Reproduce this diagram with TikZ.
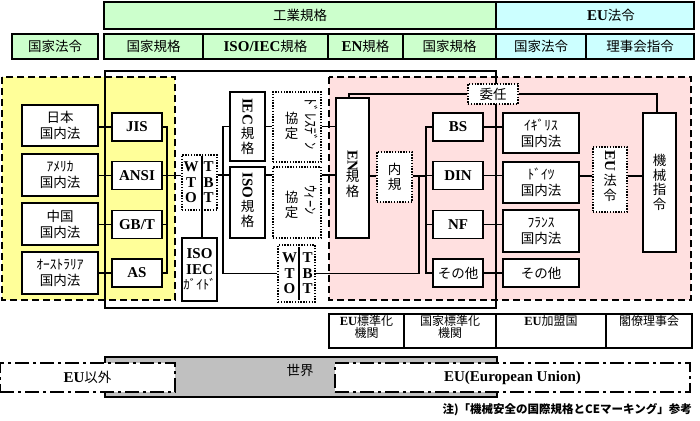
\documentclass[tikz,border=0pt]{standalone}
\usepackage{fontspec}
\setmainfont{Liberation Serif}
\newfontfamily\cjk{Noto Sans CJK JP}
\newcommand\LT[1]{{\rmfamily\bfseries\fontsize{15}{17}\selectfont #1}}
\newcommand\LS[1]{{\rmfamily\bfseries\fontsize{12.5}{12.5}\selectfont #1}}
\definecolor{hgreen}{HTML}{CCFFCC}
\definecolor{hcyan}{HTML}{CCFFFF}
\definecolor{ryel}{HTML}{FFFF99}
\definecolor{rpink}{HTML}{FFE0E0}
\definecolor{rgray}{HTML}{C0C0C0}
\tikzset{
  hdr/.style={draw, line width=1.6pt, inner sep=0pt, align=center, font=\fontsize{13.5}{16}\selectfont\cjk},
  box/.style={draw, line width=1.6pt, fill=white, inner sep=0pt, align=center, font=\fontsize{13.5}{16}\selectfont\cjk},
  dbox/.style={draw, line width=1.4pt, dash pattern=on 1.4pt off 1.4pt, fill=white, inner sep=0pt, align=center, font=\fontsize{13.5}{15}\selectfont\cjk},
  conn/.style={line width=1.2pt},
  region/.style={line width=1.6pt, dash pattern=on 7pt off 4pt},
  dashdot/.style={draw, line width=1.4pt, dash pattern=on 14pt off 4pt on 3pt off 4pt, fill=white, inner sep=0pt, font=\fontsize{13.5}{16}\selectfont\cjk},
  jt/.style={inner sep=0pt, align=center, font=\fontsize{13.5}{15}\selectfont\cjk},
  lt/.style={inner sep=0pt, align=center, font=\fontsize{15}{15.5}\selectfont\bfseries},
  small/.style={inner sep=0pt, align=center, font=\fontsize{12}{12.5}\selectfont\cjk},
}
\begin{document}
\begin{tikzpicture}[x=1pt,y=-1pt]
\useasboundingbox (0,0) rectangle (700,420);
% regions
\fill[ryel] (2,77) rectangle (175,300);
\draw[region] (2,77) rectangle (175,300);
\fill[rpink] (329,77) rectangle (691,300);
\draw[region] (329,77) rectangle (691,300);
\draw[line width=1.6pt] (105,71) rectangle (496,308);
% headers
\node[hdr, fill=hgreen, minimum width=392pt, minimum height=27pt] (h1) at (300,15.5) {工業規格};
\node[hdr, fill=hcyan, minimum width=198pt, minimum height=27pt,
      label={[font=\fontsize{13.5}{16}\selectfont\cjk, xshift=16pt]center:\LT{EU}法令}] (h2) at (595,15.5) {};
\node[hdr, fill=hgreen, minimum width=86pt, minimum height=25pt] (r0) at (55,46.5) {国家法令};
\node[hdr, fill=hgreen, minimum width=99pt, minimum height=25pt] (r1) at (153.5,46.5) {国家規格};
\node[hdr, fill=hgreen, minimum width=125pt, minimum height=25pt] (r2) at (265.5,46.5) {\LT{ISO/IEC}規格};
\node[hdr, fill=hgreen, minimum width=75pt, minimum height=25pt] (r3) at (365.5,46.5) {\LT{EN}規格};
\node[hdr, fill=hgreen, minimum width=93pt, minimum height=25pt] (r4) at (449.5,46.5) {国家規格};
\node[hdr, fill=hcyan, minimum width=90pt, minimum height=25pt] (r5) at (541,46.5) {国家法令};
\node[hdr, fill=hcyan, minimum width=108pt, minimum height=25pt] (r6) at (640,46.5) {理事会指令};
% helper coordinates
\coordinate (y175) at (0,175);
\coordinate (y176) at (0,176);
\coordinate (bus1) at (167,0);
\coordinate (bus2) at (223,0);
\coordinate (j1) at (419,0);
\coordinate (bus3) at (426,0);
% nodes
\node[box, minimum width=76pt, minimum height=41pt] (jp) at (60,125.5) {日本\\国内法};
\node[box, minimum width=76pt, minimum height=42pt] (us) at (60,175) {ｱﾒﾘｶ\\国内法};
\node[box, minimum width=76pt, minimum height=42pt] (cn) at (60,224) {中国\\国内法};
\node[box, minimum width=76pt, minimum height=42pt] (au) at (60,273) {ｵｰｽﾄﾗﾘｱ\\国内法};
\node[box, minimum width=50pt, minimum height=28pt] (jis) at (137,127) {\LT{JIS}};
\node[box, minimum width=50pt, minimum height=28pt] (ansi) at (137,175.5) {\LT{ANSI}};
\node[box, minimum width=50pt, minimum height=28pt] (gbt) at (137,224.5) {\LT{GB/T}};
\node[box, minimum width=50pt, minimum height=28pt] (as) at (137,273) {\LT{AS}};
% connectors left
\draw[conn] (jp.east |- jis.west) -- (jis.west);
\draw[conn] (us.east |- ansi.west) -- (ansi.west);
\draw[conn] (cn.east |- gbt.west) -- (gbt.west);
\draw[conn] (au.east |- as.west) -- (as.west);
\draw[conn] (jis.east) -- (jis.east -| bus1) -- (as.east -| bus1) -- (as.east);
\draw[conn] (gbt.east) -- (gbt.east -| bus1);
% WTO TBT 1
\node[dbox, minimum width=35pt, minimum height=55pt] (wto1) at (199.5,182.5) {};
\node[box, minimum width=35pt, minimum height=63pt, font=\fontsize{13}{15.5}\selectfont\cjk] (guide) at (199.5,269.5) {\LT{ISO}\\\LT{IEC}\\ｶﾞｲﾄﾞ};
\coordinate (d1) at (202,156);
\draw[conn] (d1) -- (d1 |- guide.north);
\node[lt] (wto1l) at (191,182.5) {W\\T\\O};
\node[lt] (wto1r) at (208.5,182.5) {T\\B\\T};
\draw[conn] (ansi.east) -- (ansi.east -| wto1.west);
% IEC / ISO
\node[box, minimum width=35pt, minimum height=69pt] (iec) at (247.5,126.5) {};
\node[lt, rotate=-90] (iect) at (247.5,111.5) {IEC};
\node[jt] (iecj) at (247.5,141) {規\\格};
\node[box, minimum width=35pt, minimum height=71pt] (iso) at (247.5,202.5) {};
\node[lt, rotate=-90] (isot) at (247.5,185.5) {ISO};
\node[jt] (isoj) at (247.5,214) {規\\格};
\node[dbox, minimum width=48pt, minimum height=70pt] (dres) at (297,127) {};
\node[jt, rotate=-90, font=\fontsize{14.5}{15}\selectfont\cjk] (drest) at (311,124) {ﾄﾞﾚｽﾃﾞﾝ};
\node[jt] (dresj) at (291.5,126) {協\\定};
\node[dbox, minimum width=48pt, minimum height=71pt] (wien) at (297,202.5) {};
\node[jt, rotate=-90, font=\fontsize{14.5}{15}\selectfont\cjk] (wient) at (311,200) {ｳｨｰﾝ};
\node[jt] (wienj) at (291.5,205) {協\\定};
\node[dbox, minimum width=37pt, minimum height=57pt] (wto2) at (296.5,273.5) {};
\coordinate (d2) at (299,247);
\draw[conn] (d2) -- (299,300);
\node[lt] (wto2l) at (289.5,273.5) {W\\T\\O};
\node[lt] (wto2r) at (307.5,273.5) {T\\B\\T};
% EN
\node[box, minimum width=33pt, minimum height=140pt] (en) at (352.5,168) {};
\node[lt, rotate=-90] (ent) at (352.5,160.5) {EN};
\node[jt] (enj) at (352.5,184) {規\\格};
\node[dbox, minimum width=35pt, minimum height=50pt] (naiki) at (394.5,177) {内\\規};
\node[dbox, minimum width=50pt, minimum height=20pt] (inin) at (493,94) {委任};
% national standards
\node[box, minimum width=50pt, minimum height=28pt] (bs) at (458,127) {\LT{BS}};
\node[box, minimum width=50pt, minimum height=28pt] (din) at (458,175.5) {\LT{DIN}};
\node[box, minimum width=50pt, minimum height=28pt] (nf) at (458,224.5) {\LT{NF}};
\node[box, minimum width=50pt, minimum height=28pt] (oth1) at (458,273) {その他};
\node[box, minimum width=76pt, minimum height=40pt] (uk) at (541,133) {ｲｷﾞﾘｽ\\国内法};
\node[box, minimum width=76pt, minimum height=41pt] (de) at (541,182.5) {ﾄﾞｲﾂ\\国内法};
\node[box, minimum width=76pt, minimum height=42pt] (fr) at (541,231) {ﾌﾗﾝｽ\\国内法};
\node[box, minimum width=76pt, minimum height=28pt] (oth2) at (541,273) {その他};
\node[dbox, minimum width=34pt, minimum height=65pt] (eulaw) at (610,179.5) {};
\node[lt, rotate=-90] (eut) at (610,161) {EU};
\node[jt] (euj) at (610,187.5) {法\\令};
\node[box, minimum width=33pt, minimum height=139pt, font=\fontsize{13.5}{14.5}\selectfont\cjk] (mach) at (659.5,182.5) {機\\械\\指\\令};
% connectors middle/right
\draw[conn] (wto1.east |- y175) -- (y175 -| iso.west);
\draw[conn] (iec.west) -- (iec.west -| bus2) |- (wto2.west);
\draw[conn] (iec.east) -- (iec.east -| dres.west);
\draw[conn] (dres.east |- iec.east) -- (iec.east -| en.west);
\draw[conn] (iso.east |- y175) -- (y175 -| wien.west);
\draw[conn] (wien.east |- y175) -- (y175 -| en.west);
\draw[conn] (wto2.east) -- (wto2.east -| j1) -- (j1 |- y176);
\draw[conn] (en.east |- y176) -- (y176 -| naiki.west);
\draw[conn] (naiki.east |- y176) -- (y176 -| bus3);
\draw[conn] ([xshift=-3.5pt]en.north) |- (inin.west);
\draw[conn] (inin.east) -| ([xshift=-2.5pt]mach.north);
\draw[conn] (bs.west) -- (bs.west -| bus3) -- (oth1.west -| bus3) -- (oth1.west);
\draw[conn] (din.west) -- (din.west -| bus3);
\draw[conn] (nf.west) -- (nf.west -| bus3);
\draw[conn] (bs.east) -- (bs.east -| uk.west);
\draw[conn] (din.east) -- (din.east -| de.west);
\draw[conn] (nf.east) -- (nf.east -| fr.west);
\draw[conn] (oth1.east) -- (oth1.east -| oth2.west);
\draw[conn] (de.east |- y176) -- (y176 -| eulaw.west);
\draw[conn] (eulaw.east |- y176) -- (y176 -| mach.west);
% bottom labels
\node[draw, line width=1.6pt, minimum width=75pt, minimum height=34pt, inner sep=0pt] (b1) at (366.5,331) {};
\node[draw, line width=1.6pt, minimum width=92pt, minimum height=34pt, inner sep=0pt] (b2) at (450,331) {};
\node[draw, line width=1.6pt, minimum width=110pt, minimum height=34pt, inner sep=0pt] (b3) at (551,331) {};
\node[draw, line width=1.6pt, minimum width=86pt, minimum height=34pt, inner sep=0pt] (b4) at (649,331) {};
\node[small, anchor=north] (b1t) at (366.5,315) {\LS{EU}標準化\\機関};
\node[small, anchor=north] (b2t) at (450,315) {国家標準化\\機関};
\node[small, anchor=north] (b3t) at (551,315) {\LS{EU}加盟国};
\node[small, anchor=north] (b4t) at (649,315) {閣僚理事会};
% bottom regions
\draw[line width=1.6pt, fill=rgray] (105,357) rectangle (497,397);
\node[jt] (sekai) at (300,370) {世界};
\node[dashdot, minimum width=175pt, minimum height=29pt] (euout) at (87.5,377.5) {\LT{EU}以外};
\node[dashdot, minimum width=355pt, minimum height=29pt] (eu) at (512.5,377.5) {\LT{EU(European Union)}};
\node[inner sep=0pt, anchor=east, font=\fontsize{11.5}{13}\selectfont\cjk\bfseries] (note) at (692,410) {注)「機械安全の国際規格とCEマーキング」参考};
\end{tikzpicture}
\end{document}
